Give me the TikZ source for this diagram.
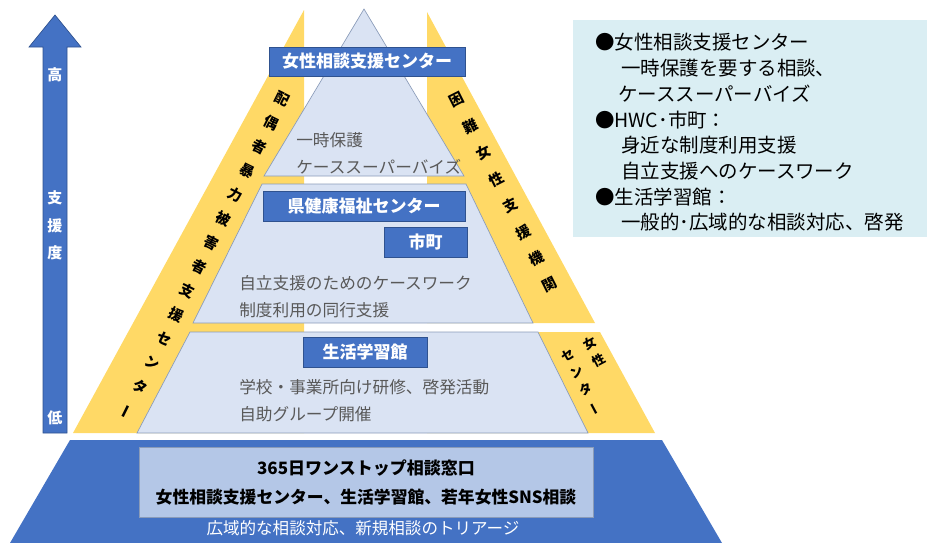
\documentclass[tikz,border=0pt]{standalone}
\usepackage{fontspec}
\setmainfont{Noto Sans CJK JP}
\usepackage{graphicx}
\definecolor{ylw}{HTML}{FFD966}
\definecolor{blu}{HTML}{4472C4}
\definecolor{bluedge}{HTML}{2F528F}
\definecolor{lblu}{HTML}{DAE3F3}
\definecolor{lbluedge}{HTML}{8A9BB8}
\definecolor{boxblu}{HTML}{B4C7E7}
\definecolor{infobg}{HTML}{DAEEF3}
\definecolor{gtx}{HTML}{595959}
\newcommand{\vbar}{\rotatebox[origin=c]{90}{ー}}
\begin{document}
\begin{tikzpicture}[x=0.75pt,y=-0.75pt,
  lbl/.style={fill=blu, draw=bluedge, line width=0.5pt, text=white, font=\fontsize{12.75}{15}\selectfont\bfseries, inner sep=0pt},
  gtxt/.style={anchor=west, text=gtx, font=\fontsize{12.5}{15}\selectfont, inner sep=0pt},
  itxt/.style={anchor=west, text=black, font=\fontsize{14.6}{17}\selectfont, inner sep=0pt},
  arrtxt/.style={text=white, font=\fontsize{11.25}{13}\selectfont\bfseries, inner sep=0pt},
  layer/.style={fill=lblu, draw=lbluedge, line width=0.5pt}]
\useasboundingbox (0,0) rectangle (933,543);

% info box
\fill[infobg] (573,20) rectangle (927,237);

% yellow bands
\fill[ylw] (304,10) -- (73,433) -- (304,433) -- cycle;
\fill[ylw] (427,12) -- (595,323) -- (427,323) -- cycle;
\fill[ylw] (427,332) -- (600,332) -- (655,433) -- (427,433) -- cycle;

% pyramid layers
\filldraw[layer] (364,9) -- (464,176) -- (264,176) -- cycle;
\filldraw[layer] (262,184) -- (466,184) -- (533,323) -- (193,323) -- cycle;
\filldraw[layer] (190,332) -- (538,332) -- (588,433) -- (137,433) -- cycle;

% bottom base
\fill[blu] (70,440) -- (662,440) -- (722,543) -- (10,543) -- cycle;
\filldraw[fill=boxblu, draw=lbluedge, line width=0.5pt] (139,447) rectangle (593,517);

% arrow
\filldraw[fill=blu, draw=bluedge, line width=0.5pt]
  (43,433) -- (43,47) -- (29,47) -- (55,15) -- (81,47) -- (67,47) -- (67,433) -- cycle;
\node[arrtxt] (a1) at (55,75) {高};
\node[arrtxt] (a2) at (55,198) {支};
\node[arrtxt] (a3) at (55,226) {援};
\node[arrtxt] (a4) at (55,253) {度};
\node[arrtxt] (a5) at (55,418) {低};

% labels
\node[lbl, minimum width=147pt, minimum height=21.75pt] (l1) at (367,61.5) {女性相談支援センター};
\node[lbl, minimum width=151.5pt, minimum height=22.5pt] (l2) at (364,206) {県健康福祉センター};
\node[lbl, minimum width=62.25pt, minimum height=22.5pt] (l3) at (425.5,242) {市町};
\node[lbl, minimum width=93pt, minimum height=22.5pt] (l4) at (365,352) {生活学習館};

% gray texts
\node[gtxt] (g1) at (296,140) {一時保護};
\node[gtxt] (g2) at (296,167) {ケーススーパーバイズ};
\node[gtxt] (g3) at (239,283) {自立支援のためのケースワーク};
\node[gtxt] (g4) at (239,310) {制度利用の同行支援};
\node[gtxt] (g5) at (239,387) {学校・事業所向け研修、啓発活動};
\node[gtxt] (g6) at (239,414) {自助グループ開催};

% bottom texts
\node[font=\fontsize{12.75}{15}\selectfont\bfseries, inner sep=0pt] (b1) at (366,468) {365日ワンストップ相談窓口};
\node[font=\fontsize{12.6}{15}\selectfont\bfseries, inner sep=0pt] (b2) at (366,497) {女性相談支援センター、生活学習館、若年女性SNS相談};
\node[text=white, font=\fontsize{12.4}{14}\selectfont, inner sep=0pt] (b3) at (363,528) {広域的な相談対応、新規相談のトリアージ};

% band texts
\node[rotate=-26.3, align=center, inner sep=0pt, font=\fontsize{10.8}{20.1}\selectfont\bfseries] (v1) at (205,256)
  {配\\偶\\者\\暴\\力\\被\\害\\者\\支\\援\\セ\\ン\\タ\\\vbar};
\node[rotate=26.7, align=center, inner sep=0pt, font=\fontsize{10.8}{22.2}\selectfont\bfseries] (v2) at (503.5,192.5)
  {困\\難\\女\\性\\支\\援\\機\\関};
\node[rotate=28, inner sep=0pt, font=\fontsize{9.5}{14.5}\selectfont\bfseries] (v3) at (592.5,376)
  {\begin{tabular}{@{}c@{\hspace{9.25pt}}c@{}}セ & 女\\ ン & 性\\ タ & \\ \vbar & \end{tabular}};

% info texts
\node[itxt] (i1) at (595,42) {●女性相談支援センター};
\node[itxt] (i2) at (621,68) {一時保護を要する相談、};
\node[itxt] (i3) at (618,94) {ケーススーパーバイズ};
\node[itxt] (i4) at (595,120) {●HWC･市町：};
\node[itxt] (i5) at (621,145) {身近な制度利用支援};
\node[itxt] (i6) at (621,171) {自立支援へのケースワーク};
\node[itxt] (i7) at (595,197) {●生活学習館：};
\node[itxt] (i8) at (621,222) {一般的･広域的な相談対応、啓発};
\end{tikzpicture}
\end{document}
